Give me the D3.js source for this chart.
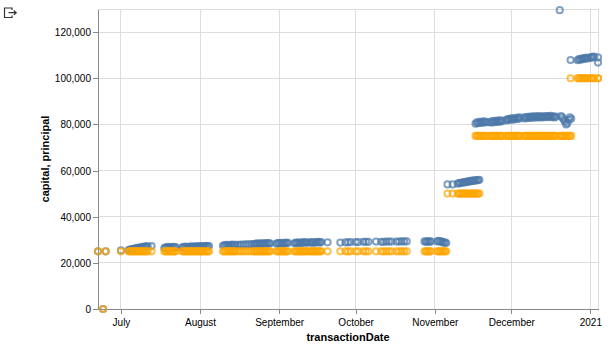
<!DOCTYPE html>
<html>
<head>
<meta charset="utf-8">
<script src="https://cdn.jsdelivr.net/npm/d3@7"></script>
<style>
  html, body { margin: 0; padding: 0; background: #fff; }
  svg { display: block; font-family: "Liberation Sans", Arial, sans-serif; }
</style>
</head>
<body>
<svg id="chart" width="616" height="355"></svg>
<script>
// ---------------- data: [transactionDate, capital, principal] ----------------
const transactions = [
  ["2020-06-22 00",25000,25000],["2020-06-24 00",0,0],["2020-06-25 00",25000,25000],["2020-07-01 00",25400,25000],
  ["2020-07-04 00",25500,25000],["2020-07-04 12",25700,25000],["2020-07-05 00",25900,25000],["2020-07-05 12",25800,25000],
  ["2020-07-06 00",26100,25000],["2020-07-06 12",26300,25000],["2020-07-07 00",26200,25000],["2020-07-07 12",26500,25000],
  ["2020-07-08 00",26400,25000],["2020-07-08 12",26700,25000],["2020-07-09 00",26600,25000],["2020-07-09 12",26900,25000],
  ["2020-07-10 00",26800,25000],["2020-07-10 12",27100,25000],["2020-07-11 00",27000,25000],["2020-07-11 12",27200,25000],
  ["2020-07-13 00",27300,25000],
  ["2020-07-18 00",26400,25000],["2020-07-18 12",26700,25000],["2020-07-19 00",26600,25000],["2020-07-19 12",26900,25000],
  ["2020-07-20 00",26500,25000],["2020-07-20 12",26800,25000],["2020-07-21 00",26700,25000],["2020-07-21 12",26900,25000],
  ["2020-07-22 00",26600,25000],["2020-07-22 12",26800,25000],
  ["2020-07-25 00",26600,25000],["2020-07-25 12",26900,25000],["2020-07-26 00",26700,25000],["2020-07-26 12",27000,25000],
  ["2020-07-27 00",26800,25000],["2020-07-27 12",26600,25000],["2020-07-28 00",26900,25000],["2020-07-28 12",27100,25000],
  ["2020-07-29 00",26800,25000],["2020-07-29 12",27000,25000],["2020-07-30 00",27000,25000],["2020-07-30 12",27200,25000],
  ["2020-07-31 00",26900,25000],["2020-07-31 12",27100,25000],["2020-08-01 00",27100,25000],["2020-08-01 12",27300,25000],
  ["2020-08-02 00",27000,25000],["2020-08-02 12",27200,25000],["2020-08-03 00",27200,25000],["2020-08-03 12",27400,25000],
  ["2020-08-04 00",27100,25000],["2020-08-04 12",27300,25000],
  ["2020-08-10 00",27400,25000],["2020-08-10 12",27700,25000],["2020-08-11 00",27500,25000],["2020-08-11 12",27800,25000],
  ["2020-08-12 00",27600,25000],["2020-08-12 12",27400,25000],["2020-08-13 00",27700,25000],["2020-08-13 12",27900,25000],
  ["2020-08-14 00",27600,25000],["2020-08-14 12",27800,25000],
  ["2020-08-15 00",27800,25000],["2020-08-16 00",27800,25000],["2020-08-17 00",27900,25000],["2020-08-18 00",27900,25000],
  ["2020-08-19 00",28000,25000],["2020-08-20 00",28000,25000],["2020-08-21 00",28100,25000],
  ["2020-08-22 00",28000,25000],["2020-08-22 12",28200,25000],["2020-08-23 00",28200,25000],["2020-08-23 12",28400,25000],
  ["2020-08-24 00",28100,25000],["2020-08-24 12",28300,25000],["2020-08-25 00",28300,25000],["2020-08-25 12",28500,25000],
  ["2020-08-26 00",28200,25000],["2020-08-26 12",28400,25000],["2020-08-27 00",28400,25000],["2020-08-27 12",28600,25000],
  ["2020-08-28 00",28300,25000],["2020-08-28 12",28500,25000],
  ["2020-08-31 00",28300,25000],["2020-08-31 12",28600,25000],["2020-09-01 00",28400,25000],["2020-09-01 12",28700,25000],
  ["2020-09-02 00",28500,25000],["2020-09-02 12",28300,25000],["2020-09-03 00",28600,25000],["2020-09-03 12",28800,25000],
  ["2020-09-04 00",28500,25000],["2020-09-04 12",28700,25000],
  ["2020-09-07 00",28500,25000],["2020-09-07 12",28800,25000],["2020-09-08 00",28600,25000],["2020-09-08 12",28900,25000],
  ["2020-09-09 00",28700,25000],["2020-09-09 12",28500,25000],["2020-09-10 00",28800,25000],["2020-09-10 12",29000,25000],
  ["2020-09-11 00",28700,25000],["2020-09-11 12",28900,25000],["2020-09-12 00",28800,25000],
  ["2020-09-13 00",28700,25000],["2020-09-13 12",29000,25000],["2020-09-14 00",28900,25000],["2020-09-14 12",28700,25000],
  ["2020-09-15 00",28800,25000],["2020-09-15 12",29000,25000],["2020-09-16 00",28900,25000],["2020-09-16 12",29100,25000],
  ["2020-09-17 00",28800,25000],["2020-09-17 12",29000,25000],
  ["2020-09-20 00",28900,25000],
  ["2020-09-25 00",28800,25000],["2020-09-27 00",28900,25000],["2020-09-28 00",28900,25000],["2020-09-29 00",29000,25000],
  ["2020-10-01 00",29000,25000],["2020-10-02 00",29000,25000],["2020-10-04 00",29100,25000],["2020-10-05 00",29100,25000],
  ["2020-10-06 00",29100,25000],["2020-10-09 00",29200,25000],
  ["2020-10-11 00",29100,25000],["2020-10-12 00",29100,25000],["2020-10-13 00",29200,25000],["2020-10-14 00",29200,25000],
  ["2020-10-15 00",29200,25000],["2020-10-17 00",29200,25000],["2020-10-18 00",29200,25000],["2020-10-19 00",29300,25000],
  ["2020-10-20 00",29300,25000],["2020-10-21 00",29300,25000],
  ["2020-10-28 00",29300,25000],["2020-10-28 12",29100,25000],["2020-10-29 00",29200,25000],["2020-10-29 12",29400,25000],
  ["2020-10-30 00",29100,25000],["2020-10-30 12",29300,25000],
  ["2020-11-02 00",29300,25000],["2020-11-02 12",29500,25000],["2020-11-03 00",29400,25000],["2020-11-03 12",29000,25000],
  ["2020-11-04 00",29200,25000],["2020-11-04 12",28700,25000],["2020-11-05 00",28900,25000],["2020-11-05 12",28600,25000],
  ["2020-11-06 00",54000,50000],["2020-11-08 00",54000,50000],
  ["2020-11-10 00",54300,50000],["2020-11-10 12",54600,50000],["2020-11-11 00",54500,50000],["2020-11-11 12",54800,50000],
  ["2020-11-12 00",54700,50000],["2020-11-12 12",55000,50000],["2020-11-13 00",54900,50000],["2020-11-13 12",55200,50000],
  ["2020-11-14 00",55100,50000],["2020-11-14 12",55400,50000],["2020-11-15 00",55300,50000],["2020-11-15 12",55600,50000],
  ["2020-11-16 00",55500,50000],["2020-11-16 12",55800,50000],["2020-11-17 00",55600,50000],["2020-11-17 12",55900,50000],
  ["2020-11-18 00",55800,50000],["2020-11-18 12",56000,50000],
  ["2020-11-17 00",80300,75000],["2020-11-17 12",80900,75000],["2020-11-18 00",80500,75000],["2020-11-18 12",81100,75000],
  ["2020-11-19 00",80600,75000],["2020-11-19 12",81200,75000],["2020-11-20 00",80700,75000],["2020-11-20 12",81300,75000],
  ["2020-11-21 00",80900,75000],["2020-11-22 00",81000,75000],
  ["2020-11-23 00",80800,75000],["2020-11-23 12",81400,75000],["2020-11-24 00",80900,75000],["2020-11-24 12",81500,75000],
  ["2020-11-25 00",81000,75000],["2020-11-25 12",81600,75000],["2020-11-26 00",81100,75000],["2020-11-26 12",81700,75000],
  ["2020-11-27 00",81200,75000],["2020-11-27 12",81600,75000],
  ["2020-11-29 00",81700,75000],["2020-11-29 12",82300,75000],["2020-11-30 00",81900,75000],["2020-11-30 12",82500,75000],
  ["2020-12-01 00",82000,75000],["2020-12-01 12",82600,75000],["2020-12-02 00",82100,75000],["2020-12-02 12",82700,75000],
  ["2020-12-03 00",82300,75000],["2020-12-03 12",82900,75000],["2020-12-04 00",82400,75000],["2020-12-04 12",83000,75000],
  ["2020-12-06 00",82600,75000],["2020-12-06 12",83200,75000],["2020-12-07 00",82700,75000],["2020-12-07 12",83300,75000],
  ["2020-12-08 00",82800,75000],["2020-12-08 12",83400,75000],["2020-12-09 00",82900,75000],["2020-12-09 12",83500,75000],
  ["2020-12-10 00",82900,75000],["2020-12-10 12",83500,75000],["2020-12-11 00",83000,75000],["2020-12-11 12",83600,75000],
  ["2020-12-12 00",83000,75000],["2020-12-12 12",83500,75000],
  ["2020-12-13 00",83000,75000],["2020-12-13 12",83500,75000],["2020-12-14 00",83100,75000],["2020-12-14 12",83600,75000],
  ["2020-12-15 00",83100,75000],["2020-12-15 12",83600,75000],["2020-12-16 00",83200,75000],["2020-12-16 12",83700,75000],
  ["2020-12-17 00",83100,75000],["2020-12-17 12",83500,75000],["2020-12-18 00",83000,75000],["2020-12-18 12",83400,75000],
  ["2020-12-20 00",129500,75000],["2020-12-20 12",83600,75000],["2020-12-21 00",83000,75000],["2020-12-21 12",82200,75000],
  ["2020-12-22 00",81300,75000],["2020-12-22 12",80000,75000],["2020-12-23 00",80500,75000],["2020-12-23 12",82000,75000],
  ["2020-12-24 00",83100,75000],["2020-12-24 12",82400,75000],
  ["2020-12-24 06",107900,100000],
  ["2020-12-27 00",107800,100000],["2020-12-27 12",108300,100000],["2020-12-28 00",108000,100000],["2020-12-28 12",108500,100000],
  ["2020-12-29 00",108200,100000],["2020-12-29 12",108700,100000],["2020-12-30 00",108400,100000],["2020-12-30 12",108900,100000],
  ["2020-12-31 00",108600,100000],["2021-01-01 00",108800,100000],["2021-01-01 12",109300,100000],
  ["2021-01-02 00",109000,100000],["2021-01-02 12",109400,100000],
  ["2021-01-04 00",109000,100000],["2021-01-04 00",106800,100000]
];
const seriesNames = ["capital", "principal"];
const seriesColors = ["#4c78a8", "#ffa500"];
const xTickDates = ["2020-07-01 00","2020-08-01 00","2020-09-01 00","2020-10-01 00","2020-11-01 00","2020-12-01 00","2021-01-01 00"];
const xTickLabels = ["July","August","September","October","November","December","2021"];
const yTicks = [0,20000,40000,60000,80000,100000,120000];
const yMax = 130000;

// ---------------- layout ----------------
const parse = d3.timeParse("%Y-%m-%d %H");
const rows = transactions.map(t => ({ date: parse(t[0]), capital: t[1], principal: t[2] }));
const L = 98, T = 9, W = 500, H = 300;

const svg = d3.select("#chart");
const x = d3.scaleTime().domain(d3.extent(rows, d => d.date)).range([L, L + W]);
const y = d3.scaleLinear().domain([0, yMax]).range([T + H, T]);
const color = d3.scaleOrdinal().domain(seriesNames).range(seriesColors);

// grid
const grid = svg.append("g");
grid.selectAll(".vg").data(xTickDates.map(parse)).join("line")
  .attr("x1", d => x(d)).attr("x2", d => x(d))
  .attr("y1", T).attr("y2", T + H)
  .attr("stroke", "#ddd").attr("stroke-width", 1).attr("shape-rendering", "crispEdges");
grid.selectAll(".hg").data(yTicks).join("line")
  .attr("x1", L).attr("x2", L + W)
  .attr("y1", d => y(d)).attr("y2", d => y(d))
  .attr("stroke", "#ddd").attr("stroke-width", 1).attr("shape-rendering", "crispEdges");
// view frame
svg.append("rect").attr("x", L).attr("y", T).attr("width", W).attr("height", H)
  .attr("fill", "none").attr("stroke", "#ddd").attr("shape-rendering", "crispEdges");

// axes
const xAxis = d3.axisBottom(x)
  .tickValues(xTickDates.map(parse))
  .tickFormat((d, i) => xTickLabels[i])
  .tickSize(5).tickPadding(3).tickSizeOuter(0);
const gx = svg.append("g").attr("transform", `translate(0,${T + H})`).call(xAxis);
const yAxis = d3.axisLeft(y)
  .tickValues(yTicks)
  .tickFormat(d3.format(","))
  .tickSize(5).tickPadding(2).tickSizeOuter(0);
const gy = svg.append("g").attr("transform", `translate(${L},0)`).call(yAxis);
[gx, gy].forEach(g => {
  g.select(".domain").attr("stroke", "#888").attr("shape-rendering", "crispEdges");
  g.selectAll(".tick line").attr("stroke", "#888").attr("shape-rendering", "crispEdges");
  g.selectAll(".tick text").attr("fill", "#000").attr("font-size", 10)
    .attr("font-family", '"Liberation Sans", Arial, sans-serif');
});
gx.selectAll(".tick text").attr("dy", null).attr("y", 16.5);
gy.selectAll(".tick text").attr("dy", null).attr("y", 3.6);

// titles
svg.append("text").attr("x", L + W / 2).attr("y", 341)
  .attr("text-anchor", "middle").attr("font-size", 11).attr("font-weight", "bold")
  .text("transactionDate");
svg.append("text").attr("transform", `translate(49,${T + H / 2}) rotate(-90)`)
  .attr("text-anchor", "middle").attr("font-size", 11).attr("font-weight", "bold")
  .text(seriesNames.join(", "));

// points
seriesNames.forEach(s => {
  svg.append("g").selectAll("circle").data(rows).join("circle")
    .attr("cx", d => x(d.date))
    .attr("cy", d => y(d[s]))
    .attr("r", Math.sqrt(30 / Math.PI))
    .attr("fill", "none")
    .attr("stroke", color(s))
    .attr("stroke-width", 2)
    .attr("stroke-opacity", 0.7);
});

// top-left icon
svg.append("path")
  .attr("d", "M12,10 V8 H4.5 V17.5 H12 V15.5 M8.5,12.7 H16 M13.8,10.5 L16.2,12.7 L13.8,14.9")
  .attr("fill", "none").attr("stroke", "#333").attr("stroke-width", 1.2);
</script>
</body>
</html>
